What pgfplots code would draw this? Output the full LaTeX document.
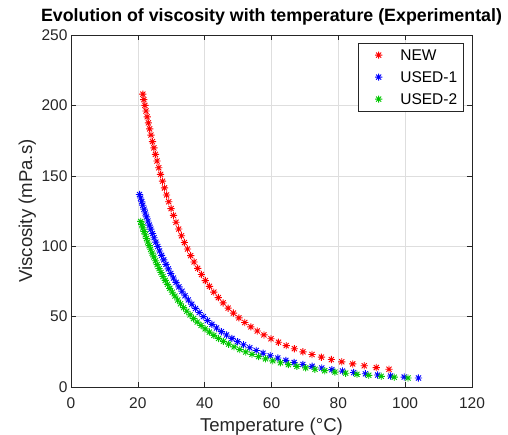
\documentclass[border=0pt]{standalone}
\usepackage{fontspec}
\setmainfont{Liberation Sans}
\usepackage{pgfplots}
\usepackage{pgfplotstable}
\pgfplotsset{compat=1.18}

\definecolor{axgray}{rgb}{0.15,0.15,0.15}
\definecolor{gridgray}{rgb}{0.87,0.87,0.87}
\definecolor{mred}{rgb}{1,0,0}
\definecolor{mblue}{rgb}{0,0,1}
\definecolor{mgreen}{rgb}{0,0.78,0}

% matlab-like '*' marker (plus and cross together)
\pgfdeclareplotmark{mstar}{%
  \pgfpathmoveto{\pgfqpoint{-\pgfplotmarksize}{0pt}}%
  \pgfpathlineto{\pgfqpoint{\pgfplotmarksize}{0pt}}%
  \pgfpathmoveto{\pgfqpoint{0pt}{-\pgfplotmarksize}}%
  \pgfpathlineto{\pgfqpoint{0pt}{\pgfplotmarksize}}%
  \pgfpathmoveto{\pgfqpoint{-.707\pgfplotmarksize}{-.707\pgfplotmarksize}}%
  \pgfpathlineto{\pgfqpoint{.707\pgfplotmarksize}{.707\pgfplotmarksize}}%
  \pgfpathmoveto{\pgfqpoint{-.707\pgfplotmarksize}{.707\pgfplotmarksize}}%
  \pgfpathlineto{\pgfqpoint{.707\pgfplotmarksize}{-.707\pgfplotmarksize}}%
  \pgfusepathqstroke}

\pgfplotstableread{
T V
21.50 208.0
21.80 204.1
22.12 200.0
22.45 196.0
22.79 191.9
23.16 187.6
23.54 183.3
23.94 178.9
24.37 174.3
24.81 169.8
25.27 165.2
25.76 160.5
26.28 155.7
26.81 151.0
27.38 146.2
27.97 141.4
28.60 136.4
29.25 131.6
29.94 126.7
30.66 121.9
31.42 117.0
32.22 112.2
33.05 107.4
33.93 102.6
34.85 98.0
35.82 93.3
36.83 88.8
37.90 84.3
39.02 79.9
40.20 75.6
41.43 71.5
42.73 67.4
44.09 63.5
45.52 59.7
47.02 56.0
48.60 52.5
50.25 49.1
51.99 45.8
53.81 42.7
55.73 39.8
57.74 37.0
59.85 34.3
62.07 31.8
64.40 29.4
66.84 27.2
69.41 25.0
72.11 23.1
74.94 21.2
77.91 19.5
81.03 17.9
84.30 16.4
87.75 15.1
91.36 13.8
95.15 12.6
}\newoil

\pgfplotstableread{
T V
20.52 136.7
20.83 134.2
21.15 131.6
21.48 129.1
21.84 126.3
22.21 123.6
22.60 120.8
23.01 117.9
23.44 115.0
23.89 112.1
24.37 109.0
24.87 106.0
25.39 102.9
25.94 99.8
26.52 96.6
27.12 93.5
27.76 90.3
28.43 87.1
29.13 83.9
29.87 80.6
30.64 77.4
31.45 74.3
32.30 71.1
33.20 68.0
34.14 64.8
35.12 61.8
36.16 58.8
37.25 55.8
38.39 52.9
39.59 50.0
40.85 47.2
42.17 44.5
43.56 41.9
45.02 39.3
46.55 36.9
48.16 34.5
49.85 32.2
51.62 30.0
53.48 27.9
55.43 25.9
57.48 24.0
59.64 22.2
61.90 20.6
64.28 18.9
66.77 17.4
69.39 16.0
72.14 14.7
75.03 13.5
78.06 12.3
81.24 11.3
84.58 10.3
88.09 9.4
91.77 8.5
95.64 7.8
99.71 7.05
103.97 6.40
}\usedone

\pgfplotstableread{
T V
20.88 117.6
21.19 115.3
21.51 113.0
21.85 110.5
22.21 108.1
22.59 105.5
22.98 103.0
23.40 100.4
23.83 97.8
24.29 95.1
24.77 92.4
25.27 89.7
25.80 86.9
26.35 84.1
26.94 81.3
27.55 78.5
28.19 75.7
28.87 72.9
29.57 70.1
30.32 67.3
31.10 64.6
31.92 61.8
32.78 59.1
33.68 56.4
34.63 53.8
35.63 51.2
36.67 48.6
37.77 46.1
38.93 43.7
40.14 41.3
41.41 39.0
42.75 36.7
44.15 34.5
45.62 32.4
47.17 30.4
48.79 28.5
50.49 26.6
52.28 24.9
54.16 23.2
56.14 21.6
58.21 20.0
60.38 18.6
62.67 17.2
65.07 15.9
67.58 14.7
70.23 13.6
73.00 12.6
75.92 11.6
78.98 10.6
82.19 9.8
85.57 9.0
89.11 8.3
92.83 7.6
96.74 6.97
100.84 6.39
}\usedtwo

\begin{document}
\begin{tikzpicture}
\useasboundingbox (-71pt,-47pt) rectangle (437pt,387pt);
\begin{axis}[
    width=401pt, height=352pt,
    scale only axis,
    xmin=0, xmax=120, ymin=0, ymax=250,
    xtick={0,20,...,120},
    ytick={0,50,...,250},
    axis line style={axgray, line width=0.6pt},
    tick style={axgray, line width=0.6pt},
    tick align=inside,
    major tick length=5pt,
    grid=major,
    major grid style={gridgray, line width=0.6pt},
    /pgf/number format/assume math mode=true,
    ticklabel style={font=\fontsize{15.5}{18}\selectfont, text=axgray},
    xticklabel style={yshift=-7pt},
    title={Evolution of viscosity with temperature (Experimental)},
    title style={font=\fontsize{17.8}{21}\selectfont\bfseries},
    xlabel={Temperature (°C)},
    ylabel={Viscosity (mPa.s)},
    label style={font=\fontsize{18.6}{22}\selectfont, text=axgray},
    xlabel style={at={(axis description cs:0.5,-0.125)}, anchor=base},
    ylabel style={at={(axis description cs:-0.097,0.5)}, anchor=base},
    legend style={
        at={(1,1)}, anchor=north east, xshift=-8pt, yshift=-8pt,
        font=\fontsize{15.5}{18}\selectfont,
        draw=axgray, line width=0.6pt,
        inner xsep=6.5pt, inner ysep=6.3pt,
        row sep=11pt, column sep=0pt,
        nodes={inner sep=0pt, text height=11pt, text depth=0pt, anchor=west},
    },
    legend image code/.code={%
        \path[draw=none, fill=none] (0pt,-5.5pt) rectangle (35.2pt,5.5pt);
        \draw[#1] plot coordinates {(13.5pt,0pt)};
    },
    mark size=3.6pt,
    every axis plot/.append style={only marks, mark=mstar, line width=0.9pt}
]
\addplot[color=mred] table[x=T, y=V] {\newoil};
\addlegendentry{NEW}
\addplot[color=mblue] table[x=T, y=V] {\usedone};
\addlegendentry{USED-1}
\addplot[color=mgreen] table[x=T, y=V] {\usedtwo};
\addlegendentry{USED-2}
\end{axis}
\end{tikzpicture}
\end{document}
